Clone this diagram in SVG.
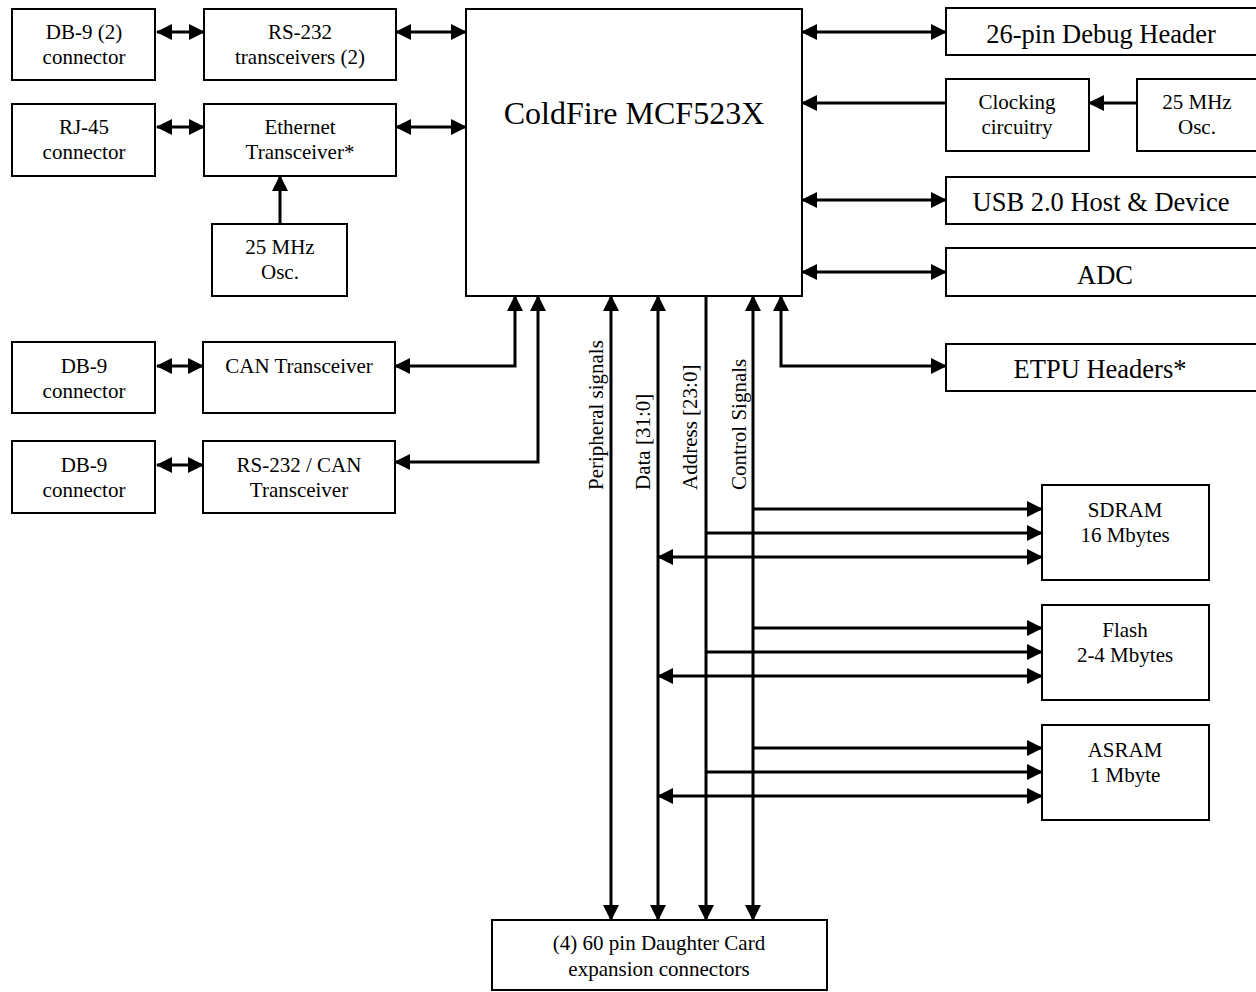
<svg xmlns="http://www.w3.org/2000/svg" width="1256" height="992" viewBox="0 0 1256 992">
<style>
.box{fill:#fff;stroke:#000;stroke-width:2}
.t{font-family:"Liberation Serif","Times New Roman",serif;font-size:21px;fill:#000;text-anchor:middle}
.tl{font-family:"Liberation Serif","Times New Roman",serif;font-size:26.5px;fill:#000;text-anchor:middle}
.tv{font-family:"Liberation Serif","Times New Roman",serif;font-size:21px;fill:#000;text-anchor:start}
.c{fill:none;stroke:#000;stroke-width:3}
.e{marker-end:url(#ah)}
.b{marker-start:url(#ah);marker-end:url(#ah)}
</style>
<defs>
<marker id="ah" markerUnits="userSpaceOnUse" markerWidth="16" markerHeight="16" refX="15" refY="8" orient="auto-start-reverse" viewBox="0 0 16 16">
<path d="M0,0 L16,8 L0,16 z" fill="#000"/>
</marker>
</defs>
<rect width="1256" height="992" fill="#fff"/>

<g id="connectors">
<line class="c b" x1="157" y1="32" x2="204" y2="32"/>
<line class="c b" x1="396" y1="32" x2="466" y2="32"/>
<line class="c b" x1="157" y1="127" x2="204" y2="127"/>
<line class="c b" x1="396" y1="127" x2="466" y2="127"/>
<line class="c e" x1="280" y1="224" x2="280" y2="176"/>
<line class="c b" x1="157" y1="366" x2="203" y2="366"/>
<line class="c b" x1="157" y1="465" x2="203" y2="465"/>
<polyline class="c b" points="395,366 515,366 515,296"/>
<polyline class="c b" points="395,462 538,462 538,296"/>
<line class="c b" x1="802" y1="32" x2="946" y2="32"/>
<line class="c e" x1="946" y1="103" x2="802" y2="103"/>
<line class="c e" x1="1137" y1="103" x2="1089" y2="103"/>
<line class="c b" x1="802" y1="200" x2="946" y2="200"/>
<line class="c b" x1="802" y1="272" x2="946" y2="272"/>
<polyline class="c b" points="781,296 781,366 946,366"/>
<line class="c b" x1="611" y1="296" x2="611" y2="920"/>
<line class="c b" x1="658" y1="296" x2="658" y2="920"/>
<line class="c e" x1="706" y1="296" x2="706" y2="920"/>
<line class="c b" x1="753" y1="296" x2="753" y2="920"/>
<line class="c e" x1="753" y1="509" x2="1042" y2="509"/>
<line class="c e" x1="706" y1="533" x2="1042" y2="533"/>
<line class="c b" x1="658" y1="557" x2="1042" y2="557"/>
<line class="c e" x1="753" y1="628" x2="1042" y2="628"/>
<line class="c e" x1="706" y1="652" x2="1042" y2="652"/>
<line class="c b" x1="658" y1="676" x2="1042" y2="676"/>
<line class="c e" x1="753" y1="748" x2="1042" y2="748"/>
<line class="c e" x1="706" y1="772" x2="1042" y2="772"/>
<line class="c b" x1="658" y1="796" x2="1042" y2="796"/>
</g>

<g id="bus-labels">
<text class="tv" transform="translate(603,490) rotate(-90)">Peripheral signals</text>
<text class="tv" transform="translate(650,490) rotate(-90)">Data [31:0]</text>
<text class="tv" transform="translate(697,490) rotate(-90)">Address [23:0]</text>
<text class="tv" transform="translate(746,490) rotate(-90)">Control Signals</text>
</g>

<g id="db9-2">
<rect class="box" x="12" y="9" width="143" height="71"/>
<text class="t" x="84" y="39">DB-9 (2)</text>
<text class="t" x="84" y="64">connector</text>
</g>
<g id="rs232">
<rect class="box" x="204" y="9" width="192" height="71"/>
<text class="t" x="300" y="39">RS-232</text>
<text class="t" x="300" y="64">transceivers (2)</text>
</g>
<g id="rj45">
<rect class="box" x="12" y="104" width="143" height="72"/>
<text class="t" x="84" y="134">RJ-45</text>
<text class="t" x="84" y="159">connector</text>
</g>
<g id="ethernet">
<rect class="box" x="204" y="104" width="192" height="72"/>
<text class="t" x="300" y="134">Ethernet</text>
<text class="t" x="300" y="159">Transceiver*</text>
</g>
<g id="osc-left">
<rect class="box" x="212" y="224" width="135" height="72"/>
<text class="t" x="280" y="254">25 MHz</text>
<text class="t" x="280" y="279">Osc.</text>
</g>
<g id="db9-can">
<rect class="box" x="12" y="342" width="143" height="71"/>
<text class="t" x="84" y="373">DB-9</text>
<text class="t" x="84" y="398">connector</text>
</g>
<g id="can">
<rect class="box" x="203" y="342" width="192" height="71"/>
<text class="t" x="299" y="373">CAN Transceiver</text>
</g>
<g id="db9-rscan">
<rect class="box" x="12" y="441" width="143" height="72"/>
<text class="t" x="84" y="472">DB-9</text>
<text class="t" x="84" y="497">connector</text>
</g>
<g id="rs232-can">
<rect class="box" x="203" y="441" width="192" height="72"/>
<text class="t" x="299" y="472">RS-232 / CAN</text>
<text class="t" x="299" y="497">Transceiver</text>
</g>
<g id="coldfire">
<rect class="box" x="466" y="9" width="336" height="287"/>
<text class="t" x="634" y="124" style="font-size:32px">ColdFire MCF523X</text>
</g>
<g id="debug">
<rect class="box" x="946" y="8" width="320" height="47"/>
<text class="tl" x="1101" y="43">26-pin Debug Header</text>
</g>
<g id="clocking">
<rect class="box" x="946" y="79" width="143" height="72"/>
<text class="t" x="1017" y="109">Clocking</text>
<text class="t" x="1017" y="134">circuitry</text>
</g>
<g id="osc-right">
<rect class="box" x="1137" y="79" width="130" height="72"/>
<text class="t" x="1197" y="109">25 MHz</text>
<text class="t" x="1197" y="134">Osc.</text>
</g>
<g id="usb">
<rect class="box" x="946" y="177" width="320" height="47"/>
<text class="tl" x="1101" y="211">USB 2.0 Host &amp; Device</text>
</g>
<g id="adc">
<rect class="box" x="946" y="248" width="320" height="48"/>
<text class="tl" x="1105" y="284">ADC</text>
</g>
<g id="etpu">
<rect class="box" x="946" y="344" width="320" height="47"/>
<text class="tl" x="1100" y="378">ETPU Headers*</text>
</g>
<g id="sdram">
<rect class="box" x="1042" y="485" width="167" height="95"/>
<text class="t" x="1125" y="517">SDRAM</text>
<text class="t" x="1125" y="542">16 Mbytes</text>
</g>
<g id="flash">
<rect class="box" x="1042" y="605" width="167" height="95"/>
<text class="t" x="1125" y="637">Flash</text>
<text class="t" x="1125" y="662">2-4 Mbytes</text>
</g>
<g id="asram">
<rect class="box" x="1042" y="725" width="167" height="95"/>
<text class="t" x="1125" y="757">ASRAM</text>
<text class="t" x="1125" y="782">1 Mbyte</text>
</g>
<g id="daughter">
<rect class="box" x="492" y="920" width="335" height="70"/>
<text class="t" x="659" y="950">(4) 60 pin Daughter Card</text>
<text class="t" x="659" y="976">expansion connectors</text>
</g>
</svg>
